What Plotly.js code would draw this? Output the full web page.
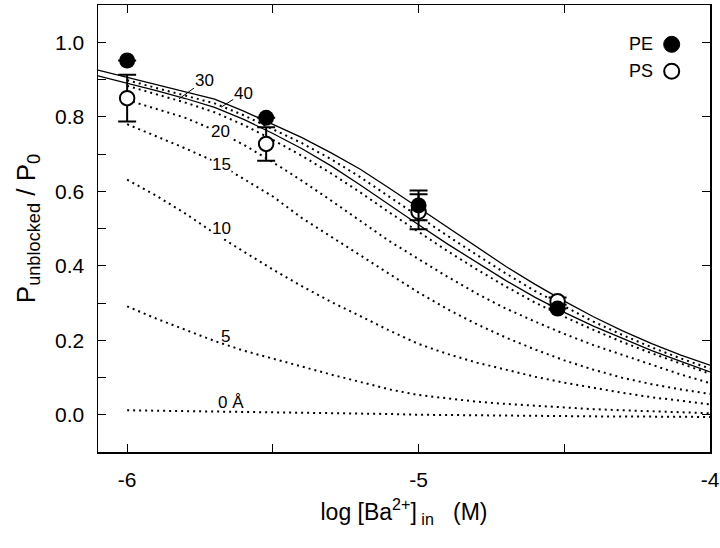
<!DOCTYPE html>
<html>
<head>
<meta charset="utf-8">
<script src="https://cdn.plot.ly/plotly-3.0.1.min.js"></script>
<style>
  html, body { margin: 0; padding: 0; background: #fff; }
  #chart { width: 720px; height: 548px; }
</style>
</head>
<body>
<div id="chart"></div>
<script>
// ---------------- data ----------------
const logBa = [-6, -5.523, -5, -4.523];
const pePoints = [0.951, 0.797, 0.562, 0.285];
const peErr = [0, 0, 0.04, 0];
const psPoints = [0.850, 0.727, 0.545, 0.305];
const psErr = [0.063, 0.045, 0.047, 0.01];

// model curves (dotted: 0..40 Å), x from -6 to -4 in 0.1 steps
const xModel = [-6.0, -5.9, -5.8, -5.7, -5.6, -5.5, -5.4, -5.3, -5.2, -5.1, -5.0,
                -4.9, -4.8, -4.7, -4.6, -4.5, -4.4, -4.3, -4.2, -4.1, -4.0];
const d0  = [0.012, 0.011, 0.010, 0.009, 0.007, 0.006, 0.005, 0.004, 0.003, 0.002, 0.000,
             -0.001, -0.002, -0.003, -0.003, -0.004, -0.004, -0.005, -0.005, -0.006, -0.006];
const d5  = [0.291, 0.258, 0.228, 0.198, 0.172, 0.150, 0.128, 0.108, 0.088, 0.068, 0.053,
             0.043, 0.035, 0.029, 0.024, 0.019, 0.015, 0.012, 0.009, 0.006, 0.004];
const d10 = [0.631, 0.588, 0.540, 0.487, 0.438, 0.390, 0.345, 0.303, 0.265, 0.226, 0.190,
             0.163, 0.140, 0.120, 0.102, 0.086, 0.072, 0.059, 0.047, 0.037, 0.028];
const d15 = [0.780, 0.748, 0.715, 0.680, 0.634, 0.586, 0.528, 0.478, 0.428, 0.376, 0.328,
             0.283, 0.243, 0.207, 0.175, 0.146, 0.121, 0.099, 0.082, 0.068, 0.056];
const d20 = [0.845, 0.822, 0.797, 0.764, 0.725, 0.678, 0.628, 0.575, 0.520, 0.466, 0.418,
             0.370, 0.325, 0.285, 0.250, 0.217, 0.187, 0.160, 0.134, 0.108, 0.085];
const d30 = [0.883, 0.861, 0.838, 0.812, 0.778, 0.738, 0.695, 0.648, 0.597, 0.543, 0.490,
             0.439, 0.390, 0.344, 0.301, 0.263, 0.228, 0.195, 0.165, 0.137, 0.110];
const d40 = [0.898, 0.878, 0.858, 0.836, 0.804, 0.767, 0.729, 0.686, 0.638, 0.585, 0.532,
             0.480, 0.429, 0.379, 0.332, 0.290, 0.250, 0.214, 0.181, 0.151, 0.124];

// fitted curves (solid), x from -6.1 to -4
const xFit = [-6.1, -6.0, -5.9, -5.8, -5.7, -5.6, -5.5, -5.4, -5.3, -5.2, -5.1, -5.0,
              -4.9, -4.8, -4.7, -4.6, -4.5, -4.4, -4.3, -4.2, -4.1, -4.0];
const fitUpper = [0.925, 0.905, 0.885, 0.866, 0.847, 0.815, 0.779, 0.744, 0.703, 0.659, 0.608, 0.555,
                  0.503, 0.450, 0.398, 0.350, 0.305, 0.263, 0.225, 0.191, 0.160, 0.133];
const fitLower = [0.910, 0.891, 0.870, 0.849, 0.825, 0.793, 0.755, 0.714, 0.668, 0.617, 0.563, 0.510,
                  0.458, 0.408, 0.360, 0.315, 0.275, 0.238, 0.204, 0.172, 0.143, 0.115];

// curve labels
const curveLabels = ['0 Å', '5', '10', '15', '20'];
const curveLabelX = [-5.645, -5.664, -5.677, -5.677, -5.679];
const curveLabelY = [0.034, 0.209, 0.5005, 0.673, 0.760];
const curveLabelBg = [false, false, true, true, true];
const leaderLabels = ['30', '40'];
const leaderTipX = [-5.822, -5.677];
const leaderTipY = [0.848, 0.826];
const leaderAx = [25, 22];
const leaderAy = [-18, -14];

// ticks
const xTickVals = [-6, -5, -4];
const xTickText = ['-6', '-5', '-4'];
const yTickVals = [0, 0.2, 0.4, 0.6, 0.8, 1.0];
const yTickText = ['0.0', '0.2', '0.4', '0.6', '0.8', '1.0'];

// ---------------- styling ----------------
const FONT = 'Liberation Sans, Arial, Helvetica, sans-serif';
const dotLine = {color: '#000', width: 2, dash: '2px,4px'};
const solidLine = {color: '#000', width: 1.3};

function dotted(y, nm) {
  return {x: xModel, y: y, name: nm, type: 'scatter', mode: 'lines', line: dotLine,
          hoverinfo: 'skip', showlegend: false};
}
const traces = [
  dotted(d0, '0 Å'), dotted(d5, '5 Å'), dotted(d10, '10 Å'), dotted(d15, '15 Å'),
  dotted(d20, '20 Å'), dotted(d30, '30 Å'), dotted(d40, '40 Å'),
  {x: xFit, y: fitUpper, name: 'fit 1', type: 'scatter', mode: 'lines', line: solidLine, showlegend: false},
  {x: xFit, y: fitLower, name: 'fit 2', type: 'scatter', mode: 'lines', line: solidLine, showlegend: false},
  {x: logBa, y: psPoints, type: 'scatter', mode: 'markers', name: 'PS', showlegend: false,
   marker: {symbol: 'circle', size: 14.5, color: '#fff', line: {color: '#000', width: 2}},
   error_y: {type: 'data', array: psErr, visible: true, color: '#000', thickness: 2, width: 9}},
  {x: logBa, y: pePoints, type: 'scatter', mode: 'markers', name: 'PE', showlegend: false,
   yaxis: 'y2',
   marker: {symbol: 'circle', size: 16, color: '#000'},
   error_y: {type: 'data', array: peErr, visible: true, color: '#000', thickness: 2, width: 9}}
];

const annotations = [];
curveLabels.forEach((t, i) => {
  annotations.push({x: curveLabelX[i], y: curveLabelY[i], xref: 'x', yref: 'y', text: t,
    showarrow: false, font: {family: FONT, size: 17, color: '#000'},
    bgcolor: curveLabelBg[i] ? '#fff' : 'rgba(0,0,0,0)', borderpad: 0});
});
leaderLabels.forEach((t, i) => {
  annotations.push({x: leaderTipX[i], y: leaderTipY[i], xref: 'x', yref: 'y', text: t,
    showarrow: true, arrowhead: 0, arrowwidth: 1, arrowcolor: '#000',
    ax: leaderAx[i], ay: leaderAy[i], standoff: 0, borderpad: 0,
    font: {family: FONT, size: 17, color: '#000'}});
});
// legend texts
annotations.push({x: 0.910, y: 0.912, xref: 'paper', yref: 'paper', text: 'PE',
  showarrow: false, xanchor: 'right', yanchor: 'middle', font: {family: FONT, size: 18, color: '#000'}});
annotations.push({x: 0.910, y: 0.852, xref: 'paper', yref: 'paper', text: 'PS',
  showarrow: false, xanchor: 'right', yanchor: 'middle', font: {family: FONT, size: 18, color: '#000'}});

const shapes = [
  {type: 'circle', xref: 'paper', yref: 'paper', xsizemode: 'pixel', ysizemode: 'pixel',
   xanchor: 0.9374, yanchor: 0.912, x0: -8, x1: 8, y0: -8, y1: 8,
   fillcolor: '#000', line: {color: '#000', width: 1}},
  {type: 'circle', xref: 'paper', yref: 'paper', xsizemode: 'pixel', ysizemode: 'pixel',
   xanchor: 0.9374, yanchor: 0.852, x0: -7.5, x1: 7.5, y0: -7.5, y1: 7.5,
   fillcolor: '#fff', line: {color: '#000', width: 2}}
];

const axisCommon = {
  showgrid: false, zeroline: false, showline: true, linecolor: '#000', linewidth: 1.5,
  ticks: 'inside', ticklen: 8, tickwidth: 1, tickcolor: '#000',
  tickfont: {family: FONT, size: 21, color: '#000'}
};

const layout = {
  width: 720, height: 548,
  margin: {l: 98, r: 10, t: 5, b: 96},
  paper_bgcolor: '#fff', plot_bgcolor: '#fff',
  font: {family: FONT, color: '#000'},
  showlegend: false,
  xaxis: Object.assign({}, axisCommon, {
    range: [-6.1, -4], tickmode: 'array', tickvals: xTickVals, ticktext: xTickText,
    minor: {ticks: 'inside', ticklen: 8, tickwidth: 1, tickcolor: '#000', tick0: -6, dtick: 0.5, showgrid: false},
    mirror: 'ticks', ticklabelstandoff: 8,
    title: {text: 'log [Ba<sup style="font-size:80%">2+</sup>]<sub style="font-size:80%">&nbsp;in</sub>&nbsp;&nbsp;&nbsp;(M)',
            font: {family: FONT, size: 23, color: '#000'}, standoff: 14}
  }),
  yaxis: Object.assign({}, axisCommon, {
    range: [-0.1, 1.1], tickmode: 'array', tickvals: yTickVals, ticktext: yTickText,
    minor: {ticks: 'inside', ticklen: 8, tickwidth: 1, tickcolor: '#000', tick0: 0, dtick: 0.1, showgrid: false},
    mirror: true, ticklabelstandoff: 8,
    title: {text: 'P<sub style="font-size:85%">unblocked</sub> / P<sub style="font-size:85%">0</sub>',
            font: {family: FONT, size: 26, color: '#000'}, standoff: 12}
  }),
  yaxis2: {
    overlaying: 'y', side: 'right', range: [-0.1, 1.1], tickmode: 'array', tickvals: yTickVals,
    showticklabels: false, ticks: 'inside', ticklen: 8, tickwidth: 1, tickcolor: '#000',
    showgrid: false, zeroline: false, showline: false
  },
  annotations: annotations,
  shapes: shapes
};

Plotly.newPlot('chart', traces, layout, {staticPlot: true, displayModeBar: false});
</script>
</body>
</html>
